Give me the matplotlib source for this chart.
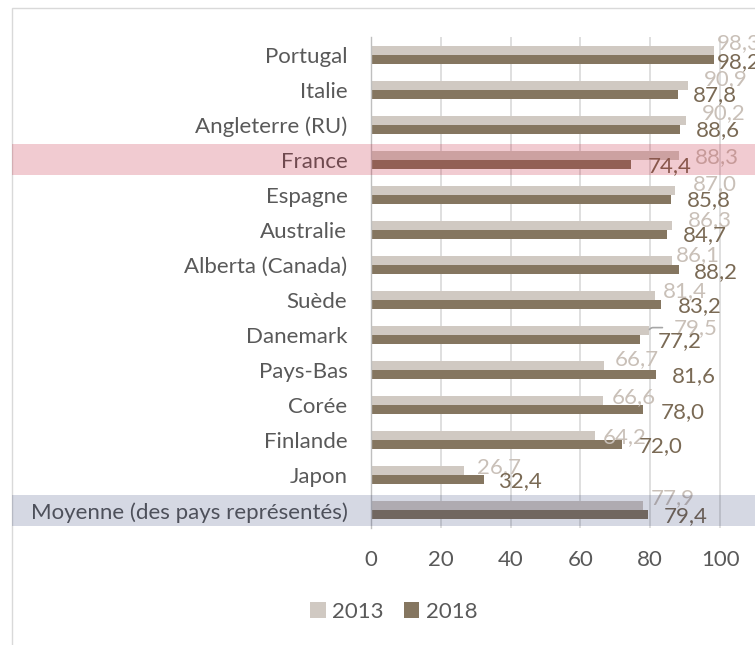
import matplotlib
matplotlib.use("Agg")
import matplotlib.pyplot as plt
from matplotlib.patches import Rectangle, Patch
import numpy as np

plt.rcParams['font.family'] = ['Lato', 'DejaVu Sans']

categories = ["Portugal", "Italie", "Angleterre (RU)", "France", "Espagne", "Australie",
              "Alberta (Canada)", "Suède", "Danemark", "Pays-Bas", "Corée", "Finlande",
              "Japon", "Moyenne (des pays représentés)"]
v2013 = [98.3, 90.9, 90.2, 88.3, 87.0, 86.3, 86.1, 81.4, 79.5, 66.7, 66.6, 64.2, 26.7, 77.9]
v2018 = [98.2, 87.8, 88.6, 74.4, 85.8, 84.7, 88.2, 83.2, 77.2, 81.6, 78.0, 72.0, 32.4, 79.4]
xticks = [0, 20, 40, 60, 80, 100]

# label offsets in pixels (dx from bar end, dy from bar centre; positive dy = down)
off2013 = [(3, -7), (16, -6), (16, -7), (16, 2), (18, -6), (16, -5), (4, -5),
           (8, -4), (25, -3), (11, -7), (8, -4), (8, 1), (13, -4), (8, -8)]
off2018 = [(3, 3), (15, 1), (16, 1), (17, 2), (16, 1), (16, 1), (15, 3),
           (16, 2), (17, 1), (16, 1), (17, 2), (16, 1), (14, 1), (16, 1)]

c2013 = "#D0C9C2"
c2018 = "#857660"
lab2013 = "#C9C0B8"
lab2018 = "#7A6A55"
txt = "#595959"
fs = 16

W, H = 755, 645
fig = plt.figure(figsize=(W / 100, H / 100), dpi=100)
ax = fig.add_axes([371 / W, 1 - 528 / H, (W - 371) / W, (528 - 37) / H])

n = len(categories)
y = np.arange(n)
h = 0.257
ax.barh(y - h / 2, v2013, height=h, color=c2013, zorder=2)
ax.barh(y + h / 2, v2018, height=h, color=c2018, zorder=2)

ax.set_xlim(0, 110)
ax.set_ylim(n - 0.5, -0.5)
ax.set_xticks(xticks)
ax.set_xticklabels([str(t) for t in xticks])
ax.set_yticks(y)
ax.set_yticklabels(categories)
ax.tick_params(axis='both', length=0, labelsize=fs, colors=txt)
ax.tick_params(axis='y', pad=17)
ax.tick_params(axis='x', pad=16)

for s in ['top', 'right', 'bottom']:
    ax.spines[s].set_visible(False)
ax.spines['left'].set_color('#BFBFBF')
ax.spines['left'].set_linewidth(1)

for t in xticks[1:]:
    ax.axvline(t, color='#D9D9D9', lw=1.2, zorder=1)

for i in range(n):
    dx, dy = off2013[i]
    kw = {}
    if categories[i] == "Danemark":
        kw = dict(arrowprops=dict(arrowstyle='-', color='#A6A6A6', lw=1.2,
                                  shrinkA=6, shrinkB=1, relpos=(0, 0.5),
                                  connectionstyle="angle,angleA=0,angleB=50,rad=2"))
    ax.annotate(f"{v2013[i]:.1f}".replace('.', ','), xy=(v2013[i], y[i] - h / 2),
                xytext=(dx, -dy), textcoords='offset pixels', ha='left', va='center',
                color=lab2013, fontsize=fs, annotation_clip=False, zorder=4, **kw)
    dx, dy = off2018[i]
    ax.annotate(f"{v2018[i]:.1f}".replace('.', ','), xy=(v2018[i], y[i] + h / 2),
                xytext=(dx, -dy), textcoords='offset pixels', ha='left', va='center',
                color=lab2018, fontsize=fs, annotation_clip=False, zorder=4)

# highlight bands (France, Moyenne)
def band(row, color, alpha):
    disp = ax.transData.transform([(0, row)])[0]
    yfig = disp[1] / H
    hh = 15.5 / H
    fig.patches.append(Rectangle((12 / W, yfig - hh), 1 - 12 / W, 2 * hh,
                                 transform=fig.transFigure, facecolor=color,
                                 alpha=alpha, edgecolor='none', zorder=10))

fig.canvas.draw()
band(categories.index("France"), (194 / 255, 22 / 255, 47 / 255), 0.22)
band(categories.index("Moyenne (des pays représentés)"), (25 / 255, 40 / 255, 100 / 255), 0.18)

# outer frame
fig.patches.append(Rectangle((12 / W, -0.1), 1.2, 1 - 8 / H + 0.1, transform=fig.transFigure,
                             facecolor='none', edgecolor='#D9D9D9', lw=1, zorder=0))

handles = [Patch(facecolor=c2013, label='2013'), Patch(facecolor=c2018, label='2018')]
fig.legend(handles=handles, loc='center', bbox_to_anchor=(394 / W, 1 - 612 / H), ncol=2,
           frameon=False, fontsize=fs, labelcolor=txt, handlelength=0.7, handleheight=0.7,
           handletextpad=0.3, columnspacing=0.9)

fig.savefig("out.png", dpi=100)
